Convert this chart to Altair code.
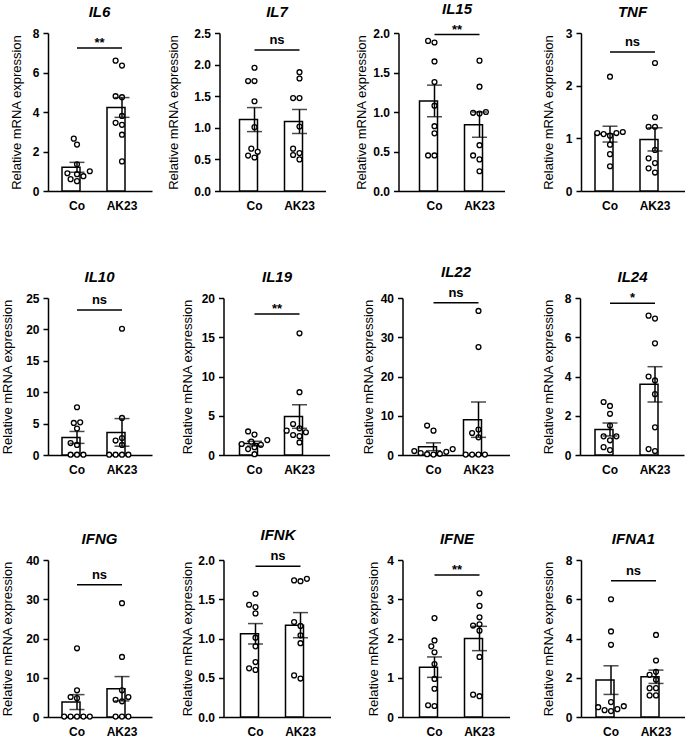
import altair as alt
import pandas as pd

GROUPS = ["Co", "AK23"]
GENES = ["IL6", "IL7", "IL15", "TNF", "IL10", "IL19", "IL22", "IL24",
         "IFNG", "IFNK", "IFNE", "IFNA1"]

# Individual relative expression values (n = 9 per group)
IL6_CO = [2.65, 2.35, 1.35, 1.0, 0.9, 0.85, 0.75, 0.6, 0.5]
IL6_AK23 = [6.6, 6.35, 4.8, 4.75, 3.8, 3.45, 3.35, 2.85, 1.5]
IL7_CO = [1.95, 1.74, 1.74, 1.42, 1.01, 0.67, 0.62, 0.56, 0.53]
IL7_AK23 = [1.88, 1.78, 1.47, 1.47, 1.02, 0.67, 0.6, 0.57, 0.5]
IL15_CO = [1.9, 1.88, 1.64, 1.38, 1.08, 0.82, 0.73, 0.45, 0.45]
IL15_AK23 = [1.65, 1.32, 1.0, 0.99, 0.98, 0.58, 0.45, 0.4, 0.25]
TNF_CO = [2.17, 1.12, 1.1, 1.1, 1.08, 1.05, 0.88, 0.7, 0.47]
TNF_AK23 = [2.43, 1.4, 1.22, 1.22, 0.78, 0.62, 0.53, 0.43, 0.35]
IL10_CO = [7.6, 5.2, 5.1, 4.2, 1.9, 1.6, 0.05, 0.05, 0.05]
IL10_AK23 = [20.1, 5.9, 2.7, 2.3, 1.6, 0.05, 0.05, 0.05, 0.05]
IL19_CO = [3.0, 2.6, 1.9, 1.7, 1.4, 1.3, 1.0, 0.75, 0.1]
IL19_AK23 = [15.5, 8.0, 3.95, 3.4, 3.1, 2.9, 2.55, 2.4, 1.6]
IL22_CO = [7.5, 6.2, 1.5, 1.0, 0.8, 0.5, 0.3, 0.2, 0.1]
IL22_AK23 = [36.7, 27.5, 6.5, 5.6, 4.5, 0.1, 0.1, 0.1, 0.1]
IL24_CO = [2.7, 2.5, 2.1, 1.5, 0.95, 0.95, 0.75, 0.4, 0.25]
IL24_AK23 = [7.1, 6.95, 5.69, 4.0, 3.8, 3.1, 1.41, 0.3, 0.2]
IFNG_CO = [17.5, 6.8, 5.1, 4.8, 0.1, 0.1, 0.1, 0.1, 0.1]
IFNG_AK23 = [29.0, 15.3, 6.8, 5.1, 4.4, 4.0, 0.1, 0.1, 0.1]
IFNK_CO = [1.57, 1.43, 1.4, 1.32, 1.01, 0.9, 0.7, 0.62, 0.6]
IFNK_AK23 = [1.76, 1.74, 1.73, 1.21, 1.16, 1.04, 0.94, 0.53, 0.49]
IFNE_CO = [2.52, 1.95, 1.8, 1.65, 1.35, 0.97, 0.72, 0.3, 0.28]
IFNE_AK23 = [3.15, 2.83, 2.54, 2.36, 2.33, 2.2, 1.53, 0.57, 0.53]
IFNA1_CO = [6.0, 4.36, 3.68, 0.76, 0.55, 0.5, 0.4, 0.35, 0.3]
IFNA1_AK23 = [4.18, 2.88, 2.3, 2.15, 1.9, 1.47, 1.47, 1.1, 1.1]

# Group means and standard errors
MEAN_CO = [1.2, 1.13, 1.14, 1.08, 2.8, 1.45, 2.1, 1.3, 3.8, 1.06, 1.27, 1.88]
SEM_CO = [0.25, 0.19, 0.2, 0.15, 0.95, 0.3, 1.0, 0.33, 1.9, 0.13, 0.26, 0.73]
MEAN_AK23 = [4.23, 1.1, 0.84, 0.98, 3.6, 4.9, 9.0, 3.6, 7.2, 1.17, 2.0, 2.05]
SEM_AK23 = [0.5, 0.19, 0.16, 0.22, 2.2, 1.5, 4.5, 0.9, 3.1, 0.16, 0.31, 0.34]

# Axis ranges, significance labels and bracket heights
Y_MAX = [8, 2.5, 2, 3, 25, 20, 40, 8, 40, 2, 4, 8]
Y_STEP = [2, 0.5, 0.5, 1, 5, 5, 10, 2, 10, 0.5, 1, 2]
SIGNIF = ["**", "ns", "**", "ns", "ns", "**", "ns", "*", "ns", "ns", "**", "ns"]
BRACKET_AT = [7.24, 2.23, 1.98, 2.64, 23.1, 17.96, 38.8, 7.73, 33.7, 1.92, 3.62, 6.94]

POINTS = [
    (IL6_CO, IL6_AK23), (IL7_CO, IL7_AK23), (IL15_CO, IL15_AK23), (TNF_CO, TNF_AK23),
    (IL10_CO, IL10_AK23), (IL19_CO, IL19_AK23), (IL22_CO, IL22_AK23), (IL24_CO, IL24_AK23),
    (IFNG_CO, IFNG_AK23), (IFNK_CO, IFNK_AK23), (IFNE_CO, IFNE_AK23), (IFNA1_CO, IFNA1_AK23),
]

# ---- layout / style ----
FONT = "Liberation Sans"
ROW_H = [158, 157, 157]
PANEL_W = [104, 106, 106, 104, 104, 106, 107, 104, 104, 107, 107, 104]
BAR_LEFT = [14, 20, 21, 14, 14, 16, 16, 15, 14, 17, 17, 15]
TITLE_PAD = [9, 13.8, 4.8, 9.8, 11.1, 7.1, 5.1, 8.8, 11.1, 3.8, 6.8, 9.8]
COL_GAPS = [[14.5, 28.5, 37.5], [28.5, 31.5, 32.5], [28.5, 35.5, 32.5]]
ROW_GAP = 53
TITLE_OFFSET = 7
STEP = 45.0
PAD_INNER = 1 / 3
BAND = STEP * (1 - PAD_INNER)
DOT = 6.4  # centre distance between touching dots


def swarm(values, ymax, height):
    """Spread dots sideways so that they do not overlap."""
    order = sorted(range(len(values)), key=lambda k: values[k])
    placed, offs = [], [0.0] * len(values)
    cands = [0.0]
    for m in range(1, 12):
        cands += [-m * DOT / 2, m * DOT / 2]
    for k in order:
        yp = values[k] / ymax * height
        for xc in cands:
            if all((xc - px) ** 2 + (yp - py) ** 2 >= DOT * DOT * 0.95 for px, py in placed):
                break
        placed.append((xc, yp))
        offs[k] = xc
    return offs


def panel(i, height):
    gene = GENES[i]
    co, ak = POINTS[i]
    ymax = Y_MAX[i]
    W = PANEL_W[i]
    outer = (W / STEP - (2 - PAD_INNER)) / 2
    align = BAR_LEFT[i] / (W - STEP * (2 - PAD_INNER))

    pts = pd.DataFrame({
        "group": ["Co"] * len(co) + ["AK23"] * len(ak),
        "value": co + ak,
        "dx": swarm(co, ymax, height) + swarm(ak, ymax, height),
    })
    summ = pd.DataFrame({
        "group": GROUPS,
        "mean": [MEAN_CO[i], MEAN_AK23[i]],
        "sem": [SEM_CO[i], SEM_AK23[i]],
    })
    summ["lo"] = summ["mean"] - summ["sem"]
    summ["hi"] = summ["mean"] + summ["sem"]
    caps = pd.DataFrame({
        "group": GROUPS * 2,
        "v": list(summ["lo"]) + list(summ["hi"]),
    })
    br = pd.DataFrame({"g1": ["Co"], "g2": ["AK23"], "y": [BRACKET_AT[i]], "label": [SIGNIF[i]]})

    xscale = alt.Scale(domain=GROUPS, paddingInner=PAD_INNER, paddingOuter=outer, align=align)
    xaxis = alt.Axis(title=None, labelAngle=0, ticks=False, labelPadding=9,
                     labelFontSize=12, labelFontWeight="bold")

    def X(field):
        return alt.X(f"{field}:N", sort=GROUPS, scale=xscale, axis=xaxis)

    n_ticks = int(round(ymax / Y_STEP[i]))
    tick_vals = [Y_STEP[i] * k for k in range(n_ticks + 1)]
    fmt = ".1f" if Y_STEP[i] < 1 else "d"
    yscale = alt.Scale(domain=[0, ymax], nice=False, zero=True)
    yaxis = alt.Axis(title="Relative mRNA expression", values=tick_vals, format=fmt,
                     titlePadding=TITLE_PAD[i], tickSize=5, labelPadding=4)

    def Y(field):
        return alt.Y(f"{field}:Q", scale=yscale, axis=yaxis)

    bars = alt.Chart(summ).mark_bar(fill="white", stroke="black", strokeWidth=1.5).encode(
        x=X("group"), y=Y("mean"))
    dots = alt.Chart(pts).mark_point(shape="circle", filled=True, fill="white", stroke="black",
                                     strokeWidth=1.3, size=24, opacity=1).encode(
        x=X("group"),
        xOffset=alt.XOffset("dx:Q", scale=alt.Scale(domain=[-BAND / 2, BAND / 2])),
        y=Y("value"))
    err = alt.Chart(summ).mark_rule(color="black", strokeWidth=1.5).encode(
        x=X("group"), y=Y("lo"), y2="hi")
    cap = alt.Chart(caps).mark_tick(color="black", thickness=1.5, size=15).encode(
        x=X("group"), y=Y("v"))
    line = alt.Chart(br).mark_rule(color="black", strokeWidth=1.5).encode(
        x=X("g1"), x2="g2", y=Y("y"))
    is_star = "*" in SIGNIF[i]
    txt = alt.Chart(br).mark_text(font=FONT, fontWeight="bold", fontSize=13,
                                  baseline="alphabetic", dx=STEP / 2, dy=-1 if is_star else -6,
                                  color="black").encode(
        x=X("g1"), y=Y("y"), text="label:N")

    title = alt.TitleParams(text=gene, fontStyle="italic", fontWeight="bold", fontSize=15,
                            font=FONT, anchor="middle", offset=TITLE_OFFSET, color="black",
                            dx=BAR_LEFT[i] + (STEP * (2 - PAD_INNER)) / 2 - W / 2)
    return alt.layer(bars, dots, err, cap, line, txt).properties(
        width=W, height=height, title=title)


def row(r):
    ps = [panel(4 * r + c, ROW_H[r]) for c in range(4)]
    g = COL_GAPS[r]
    left = alt.hconcat(ps[0], ps[1], spacing=g[0])
    right = alt.hconcat(ps[2], ps[3], spacing=g[2])
    return alt.hconcat(left, right, spacing=g[1])


chart = alt.vconcat(row(0), row(1), row(2), spacing=ROW_GAP).properties(
    padding={"left": 1, "top": 1, "right": 0, "bottom": 0},
    background="white",
).configure_view(stroke=None).configure_axis(
    grid=False, domainColor="black", domainWidth=1.5, tickColor="black", tickWidth=1.5,
    labelFont=FONT, labelFontWeight="bold", labelFontSize=12, labelColor="black",
    titleFont=FONT, titleFontWeight="normal", titleFontSize=13, titleColor="black",
)

chart.save("out.html", embed_options={"renderer": "svg", "actions": False})
